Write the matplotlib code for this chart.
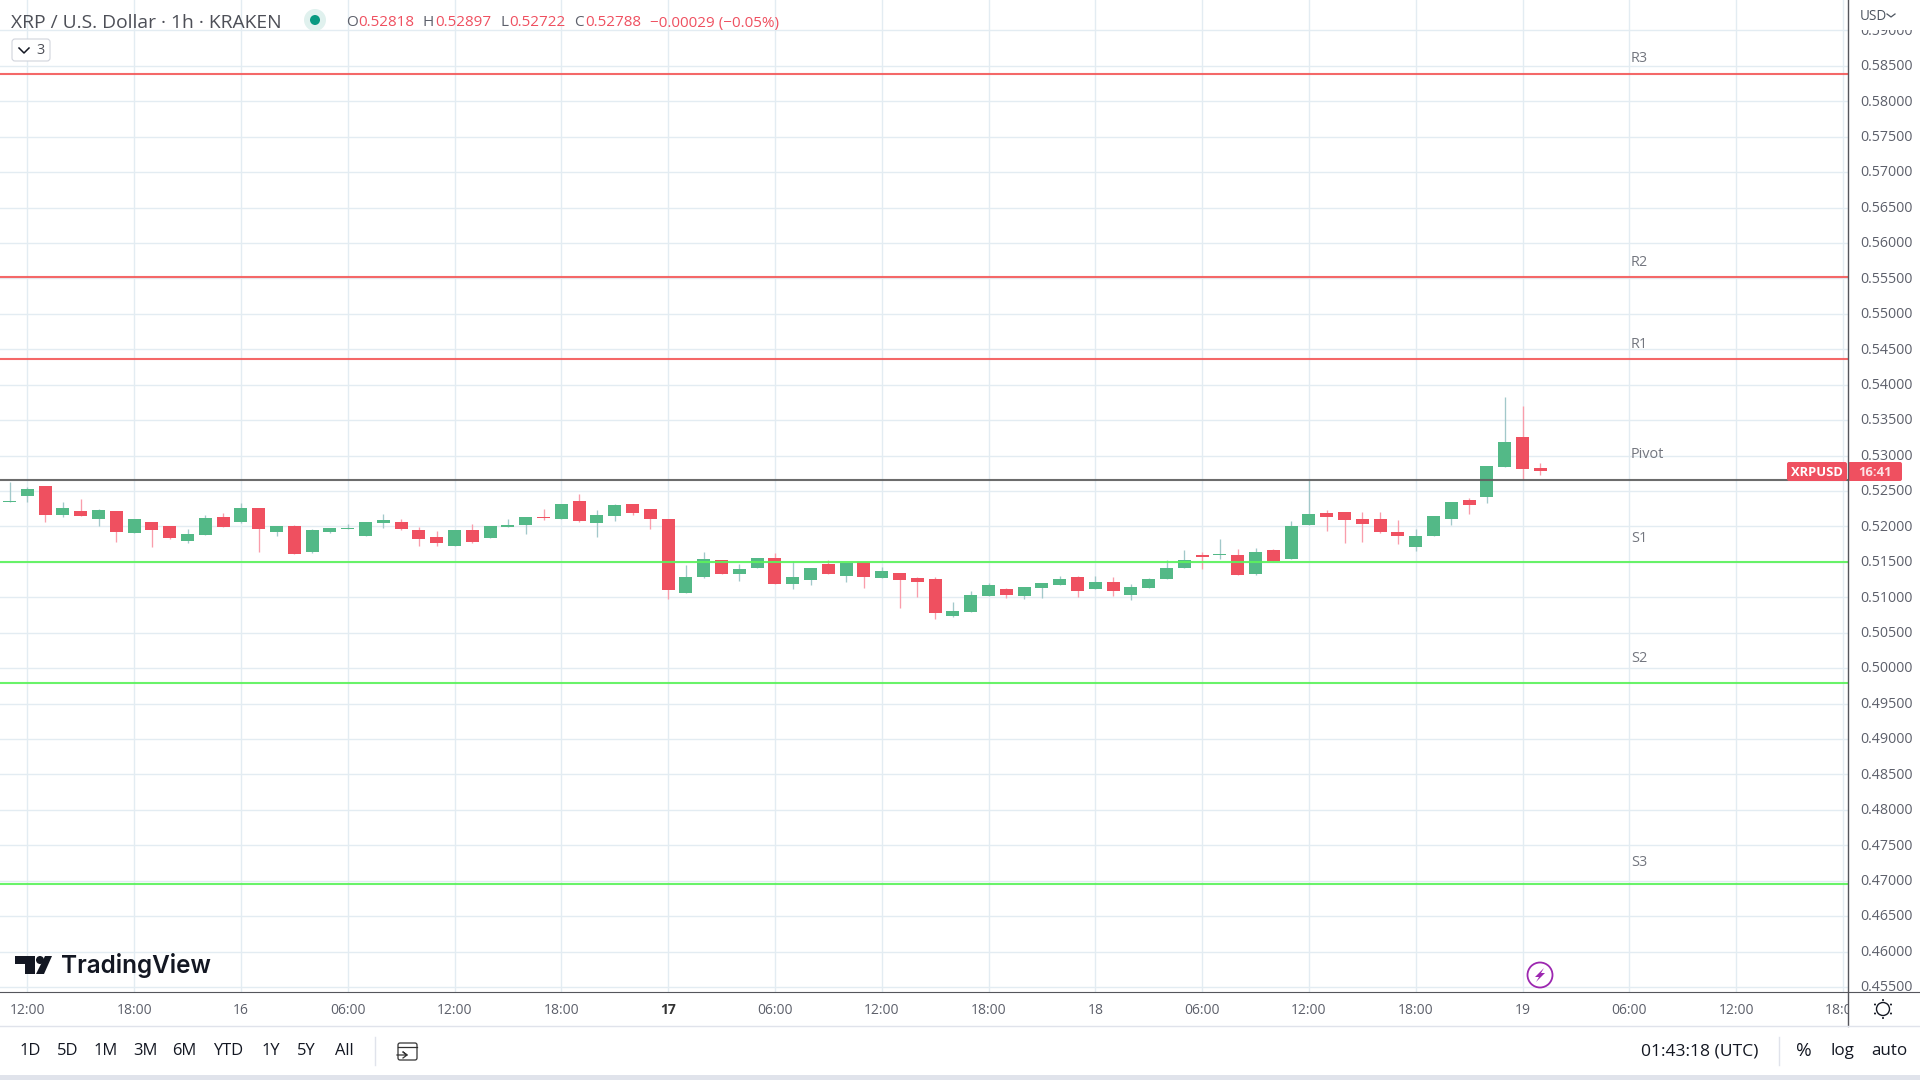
import matplotlib
matplotlib.use('Agg')
import matplotlib.pyplot as plt
from matplotlib.patches import Circle, FancyBboxPatch, Polygon, Rectangle
from matplotlib.transforms import Bbox, ScaledTranslation, TransformedBbox

plt.rcParams['font.family'] = ['Open Sans', 'DejaVu Sans']

# hourly candles, first one is 15th 11:00
opens = [.52345, .52430, .52571, .52162, .52218, .52105, .52218, .51908, .52063, .52007,
         .51795, .51880, .52134, .52063, .52261, .51922, .52007, .51640, .51922, .51964,
         .51866, .52049, .52063, .51950, .51851, .51724, .51950, .51837, .51993, .52021,
         .52134, .52105, .52359, .52049, .52148, .52317, .52247, .52105, .51061, .51287,
         .51527, .51329, .51414, .51555, .51188, .51245, .51470, .51301, .51499, .51273,
         .51343, .51273, .51259, .50737, .50793, .51019, .51117, .51019, .51132, .51174,
         .51287, .51117, .51216, .51033, .51132, .51259, .51414, .51597, .51597, .51597,
         .51329, .51668, .51541, .52021, .52190, .52204, .52105, .52105, .51922, .51710,
         .51866, .52105, .52374, .52416, .52839, .53263, .52818]
highs = [.52628, .52557, .52571, .52345, .52388, .52247, .52218, .52105, .52063, .52007,
         .51964, .52162, .52190, .52331, .52261, .52007, .52021, .51964, .51978, .52035,
         .52063, .52176, .52105, .51993, .51936, .51950, .52035, .52007, .52105, .52134,
         .52247, .52317, .52458, .52233, .52317, .52317, .52247, .52105, .51456, .51640,
         .51527, .51470, .51555, .51626, .51513, .51414, .51527, .51484, .51499, .51428,
         .51343, .51287, .51287, .50934, .51089, .51202, .51132, .51146, .51202, .51301,
         .51301, .51301, .51287, .51188, .51273, .51527, .51668, .51640, .51823, .51682,
         .51696, .51682, .52077, .52656, .52233, .52204, .52204, .52204, .52091, .51964,
         .52148, .52345, .52402, .52853, .53827, .53700, .52897]
lows = [.52345, .52345, .52063, .52134, .52148, .52007, .51781, .51908, .51710, .51823,
        .51767, .51880, .51993, .52049, .51640, .51866, .51611, .51626, .51908, .51964,
        .51866, .51978, .51950, .51724, .51724, .51724, .51767, .51837, .51993, .51894,
        .52091, .52105, .52063, .51851, .52077, .52162, .51964, .50976, .51061, .51273,
        .51329, .51230, .51414, .51188, .51117, .51174, .51329, .51216, .51132, .51273,
        .50849, .51005, .50694, .50722, .50793, .51019, .50991, .50976, .50991, .51174,
        .51005, .51117, .51019, .50962, .51132, .51259, .51414, .51400, .51541, .51315,
        .51315, .51513, .51541, .52021, .51936, .51767, .51781, .51908, .51753, .51654,
        .51866, .52021, .52176, .52331, .52839, .52656, .52722]
closes = [.52359, .52529, .52162, .52261, .52148, .52233, .51922, .52105, .51950, .51837,
          .51894, .52120, .51993, .52261, .51964, .52007, .51611, .51950, .51978, .51978,
          .52063, .52091, .51964, .51823, .51767, .51950, .51781, .52007, .52021, .52134,
          .52120, .52317, .52077, .52162, .52303, .52190, .52105, .51103, .51287, .51541,
          .51329, .51400, .51555, .51188, .51287, .51414, .51329, .51484, .51287, .51372,
          .51245, .51216, .50779, .50807, .51033, .51174, .51033, .51146, .51202, .51259,
          .51089, .51216, .51089, .51146, .51259, .51414, .51527, .51569, .51611, .51315,
          .51640, .51513, .52007, .52176, .52134, .52091, .52035, .51922, .51866, .51866,
          .52148, .52345, .52303, .52853, .53192, .52811, .52788]

level_names = ['R3', 'R2', 'R1', 'Pivot', 'S1', 'S2', 'S3']
level_values = [.58389, .55524, .54366, .52655, .51499, .49791, .46955]
level_colors = ['#f45b5b', '#f45b5b', '#f45b5b', '#5f5f5f', '#5cf25c', '#5cf25c', '#5cf25c']

time_ticks = [1, 7, 13, 19, 25, 31, 37, 43, 49, 55, 61, 67, 73, 79, 85, 91, 97, 103]
time_labels = ['12:00', '18:00', '16', '06:00', '12:00', '18:00', '17', '06:00', '12:00',
               '18:00', '18', '06:00', '12:00', '18:00', '19', '06:00', '12:00', '18:00']
price_ticks = [.455, .46, .465, .47, .475, .48, .485, .49, .495, .5, .505, .51, .515, .52, .525,
               .53, .535, .54, .545, .55, .555, .56, .565, .57, .575, .58, .585, .59]
ranges = ['1D', '5D', '1M', '3M', '6M', 'YTD', '1Y', '5Y', 'All']
range_x = [30, 68, 106, 145, 184, 228, 271, 306, 344]

W, H = 1920, 1080
AX_R, AX_B = 1848, 992
UP, DOWN = '#53b987', '#ef5060'
UP_WICK, DOWN_WICK = '#a2c8ca', '#f99dab'
GRID = '#e3ecf2'
TXT = '#5d606b'
DARK = '#131722'

fig = plt.figure(figsize=(19.2, 10.8), dpi=100, facecolor='white')
ax = fig.add_axes([0, 1 - AX_B / H, AX_R / W, AX_B / H])
ax.set_xlim(-0.534, 103.28)
ax.set_ylim(0.51 + (597.3 - AX_B) / 7086, 0.51 + 597.3 / 7086)
for s in ax.spines.values():
    s.set_visible(False)

# candles
for i in range(len(opens)):
    up = closes[i] >= opens[i]
    ax.vlines(i, lows[i], highs[i], color=UP_WICK if up else DOWN_WICK, lw=0.95, zorder=2)
    ax.bar(i, closes[i] - opens[i], bottom=opens[i], width=0.73, color=UP if up else DOWN,
           linewidth=0, zorder=3)

for v, c in zip(level_values, level_colors):
    ax.axhline(v, color=c, lw=1.5, alpha=0.92, zorder=4)

ax.set_xticks(time_ticks)
ax.set_xticklabels(time_labels)
ax.set_yticks(price_ticks)
ax.set_yticklabels(['%.5f' % p for p in price_ticks])
ax.yaxis.tick_right()
ax.grid(True, color=GRID, lw=1.0, zorder=0)
ax.set_axisbelow(True)
ax.tick_params(axis='x', length=0, pad=8, labelsize=10, labelcolor=TXT)
ax.tick_params(axis='y', length=0, pad=8.6, labelsize=10.3, labelcolor=TXT)

# labels get cut at the panel edges like in the chart
def px_box(x0, y0, x1, y1):
    return TransformedBbox(Bbox([[x0 / W, 1 - y1 / H], [x1 / W, 1 - y0 / H]]), fig.transFigure)

up_1px = ScaledTranslation(0, 1.2 / 100, fig.dpi_scale_trans)
for lab in ax.get_xticklabels():
    lab.set_clip_box(px_box(0, AX_B, AX_R, 1026))
    lab.set_clip_on(True)
for lab in ax.get_yticklabels():
    lab.set_clip_box(px_box(AX_R, 30, W, AX_B))
    lab.set_clip_on(True)
    lab.set_transform(lab.get_transform() + up_1px)
ax.get_xticklabels()[6].set_fontweight('bold')
ax.get_xticklabels()[6].set_color('#333333')

# overlay in screen pixels for the toolbar stuff
ov = fig.add_axes([0, 0, 1, 1], facecolor='none')
ov.set_xlim(0, W)
ov.set_ylim(H, 0)
ov.axis('off')

def label(x, y, s, size=14, color=TXT, ha='left', **kw):
    ov.text(x, y, s, fontsize=size * 0.72, color=color, ha=ha, va='center', **kw)

ov.plot([0, W], [AX_B, AX_B], color='#55565c', lw=0.8)
ov.plot([AX_R, AX_R], [0, 1026], color='#55565c', lw=1.0)
ov.plot([0, W], [1026, 1026], color='#e0e3eb', lw=1.0)
ov.add_patch(Rectangle((0, 1075), W, 5, color='#e0e3eb', lw=0))

# legend row
label(11, 23, 'XRP / U.S. Dollar · 1h · KRAKEN', size=19.3, color='#4d4f57')
ov.add_patch(Circle((315, 20), 11, color='#e0f1ee', lw=0))
ov.add_patch(Circle((315, 20), 5, color='#089981', lw=0))
parts = [(346, 'O', TXT), (358, '0.52818', DOWN), (423, 'H', TXT), (435, '0.52897', DOWN),
         (500, 'L', TXT), (509, '0.52722', DOWN), (574, 'C', TXT), (585, '0.52788', DOWN),
         (650, '−0.00029 (−0.05%)', DOWN)]
for x, s, c in parts:
    label(x, 23, s, size=15.2, color=c)
ov.add_patch(FancyBboxPatch((12, 39), 38, 22, boxstyle='round,pad=0,rounding_size=3',
                            fc='white', ec='#d1d4dc', lw=0.8))
ov.plot([19, 24, 29], [48, 53, 48], color=DARK, lw=1.1)
label(36, 50, '3', size=14.5, color='#4d4f57')

# USD unit box
label(1860, 16, 'USD', size=13.5, color='#4d5560')
ov.plot([1887, 1891, 1895], [14, 17, 14], color='#4d5560', lw=0.9)

# pivot names
for name, y in zip(level_names, [59, 262, 344, 455, 538, 659, 863]):
    label(1631, y, name, size=14.5, color='#73767f')

# last price tag
ov.add_patch(FancyBboxPatch((1787, 462), 60, 19, boxstyle='round,pad=0,rounding_size=2', fc=DOWN, lw=0))
ov.add_patch(FancyBboxPatch((1848, 462), 54, 19, boxstyle='round,pad=0,rounding_size=2', fc=DOWN, lw=0))
label(1817, 472, 'XRPUSD', size=13, color='white', ha='center', fontweight='bold')
label(1875, 472, '16:41', size=13, color='#fde3e6', ha='center', fontweight='bold')

# logo
ov.add_patch(Polygon([(15, 956), (35, 956), (35, 974), (25, 974), (25, 964), (15, 964)], color=DARK, lw=0))
ov.add_patch(Circle((40, 960), 4, color=DARK, lw=0))
ov.add_patch(Polygon([(45, 956), (52, 956), (44, 974), (36, 974)], color=DARK, lw=0))
ov.text(61, 966, 'TradingView', fontsize=17.5, color=DARK, ha='left', va='center', fontweight='semibold',
        family=['Inter', 'DejaVu Sans'])

# bottom bar
for x, s in zip(range_x, ranges):
    label(x, 1051, s, size=16.5, color=DARK, ha='center')
ov.plot([375, 375], [1037, 1065], color='#e0e3eb', lw=1)
ov.add_patch(FancyBboxPatch((398, 1043), 19, 17, boxstyle='round,pad=0,rounding_size=2', fc='none', ec='#333', lw=0.9))
ov.plot([398, 417], [1047, 1047], color='#333', lw=0.9)
ov.plot([397, 407, 403, 407, 403], [1055, 1055, 1052, 1055, 1058], color='#333', lw=0.9)
label(1700, 1051, '01:43:18 (UTC)', size=17.5, color=DARK, ha='center')
ov.plot([1779, 1779], [1037, 1065], color='#e0e3eb', lw=1)
label(1804, 1051, '%', size=19, color=DARK, ha='center')
label(1842, 1051, 'log', size=17, color=DARK, ha='center')
label(1889, 1051, 'auto', size=17, color=DARK, ha='center')

# gear and lightning icons
ov.add_patch(Circle((1883, 1009), 6.5, fc='none', ec=DARK, lw=1.0))
for dx, dy in [(0, -9), (0, 9), (-8, -4.5), (8, -4.5), (-8, 4.5), (8, 4.5)]:
    ov.add_patch(Circle((1883 + dx, 1009 + dy), 1, color=DARK, lw=0))
ov.add_patch(Circle((1540, 975), 12.5, fc='white', ec='#9c27b0', lw=1.3))
ov.add_patch(Polygon([(1544, 968), (1535, 977), (1539, 977), (1536, 982), (1545, 973), (1541, 973)],
                     color='#9c27b0', lw=0))

fig.savefig('out.png', dpi=100)
